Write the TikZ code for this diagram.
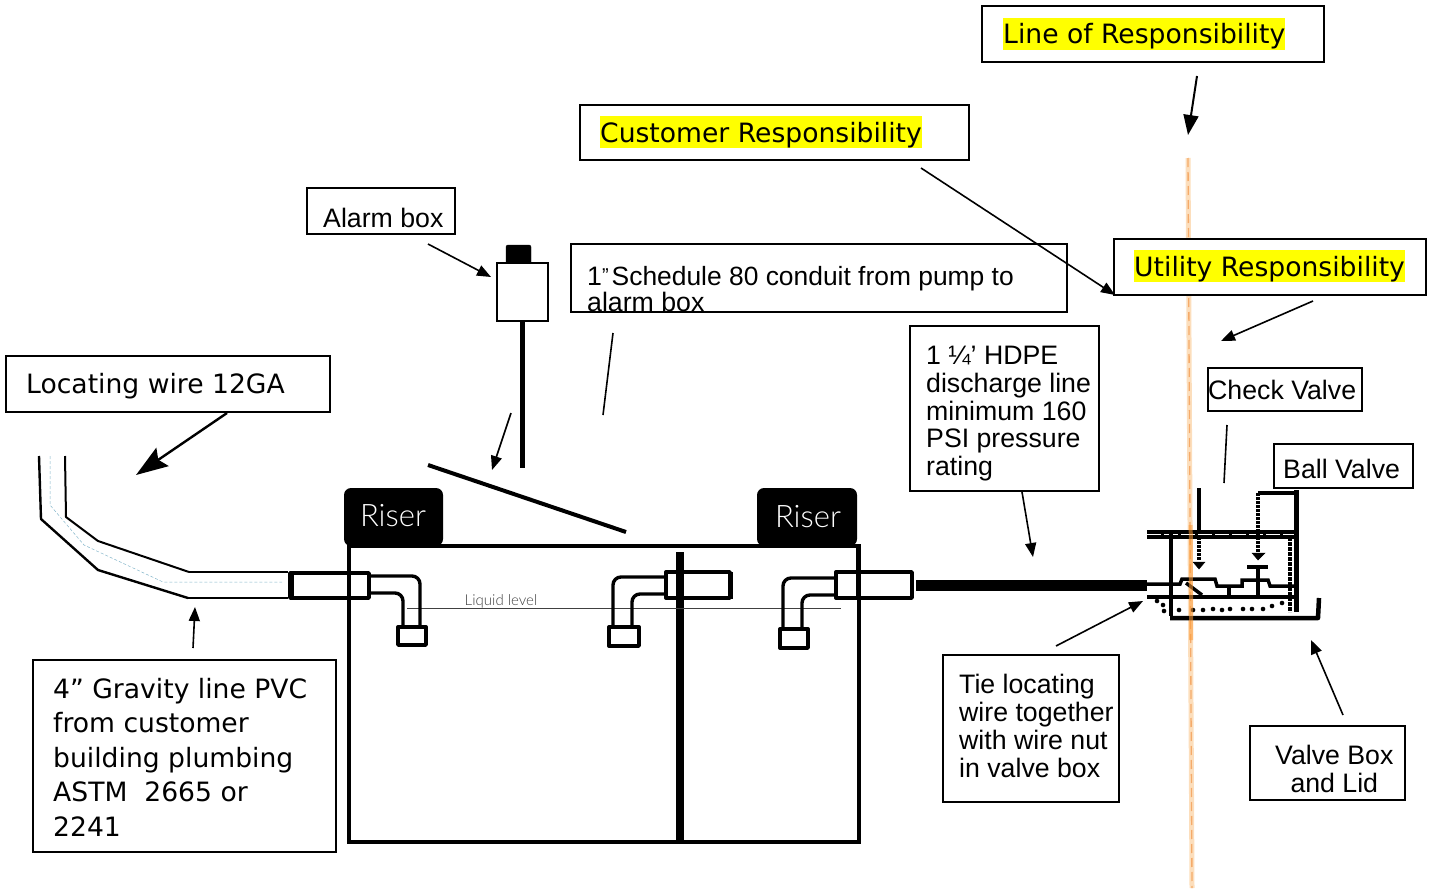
\documentclass[tikz,border=0pt]{standalone}
\usepackage{fontspec}
\setmainfont{Liberation Sans}
\newfontfamily\dv{DejaVu Sans}
\newfontfamily\lt{Lato Light}
\usetikzlibrary{arrows.meta}
\definecolor{hl}{RGB}{255,255,0}
\definecolor{orl}{RGB}{252,222,188}
\definecolor{ord}{RGB}{245,170,105}
\tikzset{
  x=1pt,y=-1pt,
  tb/.style={draw=black,line width=1.6pt,fill=white,inner sep=0pt,outer sep=0pt,anchor=north west},
  txa/.style={font=\fontsize{26.7}{28}\selectfont,inner sep=0pt,anchor=north west,align=left},
  txv/.style={font=\dv\fontsize{26.6}{34.5}\selectfont,inner sep=0pt,anchor=north west,align=left},
  hlt/.style={font=\dv\fontsize{26.6}{32}\selectfont,inner sep=0pt,anchor=west,fill=hl,text height=26pt,text depth=6pt},
  ar/.style={line width=1.6pt,-{Triangle[length=14pt,width=11pt]}},
  arb/.style={line width=2.4pt,-{Stealth[length=32pt,width=22pt,inset=5pt]}},
  pl/.style={line width=1.6pt},
  tank/.style={line width=4pt,line join=miter},
  fit/.style={line width=3.4pt,draw=black,fill=white,line join=round},
  elb/.style={line width=3.4pt,rounded corners=8pt},
  gr/.style={line width=2.4pt,line join=round},
  grt/.style={line width=2pt,line join=round},
  vb/.style={line width=3.5pt,line join=miter},
  riser/.style={fill=black,rounded corners=7pt,draw=none},
  rtx/.style={font=\lt\fontsize{31}{34}\selectfont,text=white,inner sep=0pt}
}
\newcommand\bx[6]{\pgfmathsetmacro\bw{#4-#2}\pgfmathsetmacro\bh{#5-#3}%
  \node[tb,minimum width=\bw pt,minimum height=\bh pt] (#1) at (#2,#3) {#6};}
\begin{document}
\begin{tikzpicture}
\useasboundingbox (0,0) rectangle (1429,891);
% responsibility line
\draw[orl,line width=5pt] (1188,158) -- (1192,888);
\draw[ord,line width=1.3pt,dash pattern=on 9pt off 5pt] (1188,158) -- (1192,888);

% boxes
\bx{lineb}{982}{6}{1324}{62}{}
\bx{custb}{580}{105}{969}{160}{}
\bx{utilb}{1114}{239}{1426}{295}{}
\bx{alarmb}{307}{188}{455}{234}{}
\bx{condb}{571}{244}{1067}{312}{}
\bx{locb}{6}{356}{330}{412}{}
\bx{gravb}{33}{660}{336}{852}{}
\bx{hdpeb}{910}{326}{1099}{491}{}
\bx{checkb}{1208}{368}{1362}{411}{}
\bx{ballb}{1274}{444}{1413}{488}{}
\bx{tieb}{943}{655}{1119}{802}{}
\bx{vboxb}{1250}{726}{1405}{800}{}

% box texts
\node[hlt] (linet) at (1003,34) {Line of Responsibility};
\node[hlt] (custt) at (600,132) {Customer Responsibility};
\node[hlt] (utilt) at (1134,266) {Utility Responsibility};
\node[txa] (alarmt) at (323,208) {Alarm box};
\node[txa,font=\fontsize{26.7}{24.5}\selectfont] (condt) at (587,266) {1\raisebox{3pt}{\fontsize{20}{20}\selectfont”}\hspace{3pt}{\fontsize{26.4}{24.5}\selectfont Schedule 80 conduit from pump to}\\alarm box};
\node[txv] (loct) at (26,373) {Locating wire 12GA};
\node[txv] (gravt) at (53,678) {4” Gravity line PVC\\from customer\\building plumbing\\ASTM\ \ 2665 or\\2241};
\node[txa,font=\fontsize{26.7}{27.8}\selectfont] (hdpet) at (926,346) {1 ¼’ HDPE\\discharge line\\minimum 160\\PSI pressure\\rating};
\node[txa] (checkt) at (1208,380) {Check Valve};
\node[txa] (ballt) at (1283,459) {Ball Valve};
\node[txa] (tiet) at (959,674) {Tie locating\\wire together\\with wire nut\\in valve box};
\node[txa,align=center] (vboxt) at (1275,745) {Valve Box\\and Lid};

% left gravity pipe
\draw[gr] (39,456) -- (41,519) -- (98,570) -- (188,598);
\draw[grt] (188,598) -- (288,598);
\draw[grt] (65,456) -- (66,517) -- (98,541) -- (189,572);
\draw[gr] (189,572) -- (288,572);
\draw[blue!30!cyan!40!gray!70,line width=.5pt,densely dashed] (50,456) -- (50,505) -- (84,545) -- (163,582) -- (282,582);

% tank
\draw[tank] (349,546) rectangle (859,842);
\draw[line width=8pt] (680,552) -- (680,842);
\draw[riser] (344,488) rectangle (443,546);
\draw[riser] (757,488) rectangle (857,546);
\node[rtx] (riser1) at (393,516) {Riser};
\node[rtx] (riser2) at (808,517) {Riser};

% liquid level
\draw[line width=.8pt,black!75] (407,608) -- (841,608);
\node[font=\lt\fontsize{15}{16}\selectfont,text=black!75,inner sep=0pt] (liquid) at (501,601) {Liquid level};

% inlet fitting
\draw[fit,fill=none] (290,573) rectangle (369,598);
\draw[line width=5pt] (291,572) -- (291,599);
\draw[elb] (369,576) -- (420,576) -- (420,627);
\draw[elb] (369,593) -- (403,593) -- (403,627);
\draw[fit] (398,627) rectangle (426,645);
% middle fitting
\draw[fit,fill=none] (666,572) rectangle (730,598);
\draw[line width=5pt] (730,572) -- (730,599);
\draw[elb] (666,577) -- (613,577) -- (613,627);
\draw[elb] (666,594) -- (632,594) -- (632,627);
\draw[fit] (609,627) rectangle (639,646);
% outlet fitting
\draw[fit,fill=none] (836,572) rectangle (912,598);
\draw[elb] (836,578) -- (783,578) -- (783,629);
\draw[elb] (836,595) -- (802,595) -- (802,629);
\draw[fit] (780,629) rectangle (808,648);

% redraw tank wall and divider over fittings
\draw[line width=5pt] (858,546) -- (858,598);
\draw[line width=4pt] (349,546) -- (349,598);
\draw[line width=8pt] (680,552) -- (680,600);

% discharge line
\draw[line width=11pt] (916,585.5) -- (1147,585.5);

% alarm
\draw[fill=black,rounded corners=2pt] (506,245) rectangle (531,264);
\node[draw=black,line width=1.6pt,fill=white,minimum width=51pt,minimum height=58pt,inner sep=0pt,outer sep=0pt,anchor=north west] (alarm) at (497,263) {};
\coordinate (stemend) at (522,468);
\draw[line width=5pt] (alarm.south -| stemend) -- (stemend);
% slanted line
\coordinate (slA) at (428,465);
\coordinate (slB) at (626,532);
\draw[line width=4pt] (slA) -- (slB);

% valve box
\draw[vb] (1199,488) -- (1199,530);
\draw[line width=9pt] (1147,534.5) -- (1296,534.5);
\draw[white,line width=1.3pt,dash pattern=on 14pt off 3pt] (1147,534.5) -- (1296,534.5);
\draw[vb,line width=3.5pt,dash pattern=on 3pt off 1pt] (1199,537) -- (1199,560);
\draw[fill=black] (1193,562) -- (1205,562) -- (1199,569) -- cycle;
\draw[vb] (1258,493) -- (1296,493);
\draw[vb,line width=5pt] (1296,490) -- (1296,612);
\draw[vb,dash pattern=on 3pt off 1pt] (1258,493) -- (1258,553);
\draw[fill=black] (1252,553) -- (1265,553) -- (1258,560) -- cycle;
\draw[vb,line width=4.5pt] (1171,532) -- (1171,616);
\draw[vb,dash pattern=on 4pt off 1pt] (1290,537) -- (1290,612);
\draw[vb] (1147,584) -- (1180,584) -- (1182,579) -- (1215,579) -- (1217,586) -- (1242,586) -- (1242,580) -- (1268,580) -- (1270,586) -- (1294,586);
\draw[vb] (1147,597) -- (1294,597);
\draw[vb] (1186,583) -- (1202,595);
\draw[vb] (1229,586) -- (1229,597);
\draw[vb] (1258,567) -- (1258,597);
\draw[vb,line width=4.5pt] (1247,567) -- (1268,567);
\foreach \dx/\dy in {1179/610,1193/610,1203/610,1213/609,1222/610,1230/609,1243/609,1252/609,1263/609,1272/606,1282/603,1157/601,1163/605,1164/611}
  \fill (\dx,\dy) circle (2.3pt);
\draw[line width=4.5pt,line join=round] (1170,618) -- (1318,618) -- (1319,598);

% orange overlay through the valve box
\draw[orange!70!orl,line width=4pt,opacity=.55] (1190.7,525) -- (1191.2,640);

% connectors
\coordinate (a1) at (428,244); \coordinate (a2) at (491,277);
\draw[ar] (a1) -- (a2);
\coordinate (b1) at (511,413); \coordinate (b2) at (492,470);
\draw[ar] (b1) -- (b2);
\coordinate (c1) at (227,413); \coordinate (c2) at (136,475);
\draw[arb] (c1) -- (c2);
\coordinate (d1) at (193,648); \coordinate (d2) at (195,607);
\draw[ar] (d1) -- (d2);
\coordinate (e1) at (1197,76); \coordinate (e2) at (1188,135);
\draw[line width=2pt,-{Triangle[length=20pt,width=15pt]}] (e1) -- (e2);
\coordinate (f1) at (921,168); \coordinate (f2) at (1115,295);
\draw[ar] (f1) -- (f2);
\coordinate (g1) at (1313,301); \coordinate (g2) at (1221,341);
\draw[ar] (g1) -- (g2);
\coordinate (h1) at (1022,492); \coordinate (h2) at (1033,557);
\draw[ar] (h1) -- (h2);
\coordinate (i1) at (1343,715); \coordinate (i2) at (1311,640);
\draw[ar] (i1) -- (i2);
\coordinate (j1) at (1056,646); \coordinate (j2) at (1143,601);
\draw[ar] (j1) -- (j2);
\coordinate (k1) at (613,333); \coordinate (k2) at (603,415);
\draw[pl] (k1) -- (k2);
\coordinate (m1) at (1227,425); \coordinate (m2) at (1224,483);
\draw[pl] (m1) -- (m2);
\end{tikzpicture}
\end{document}
